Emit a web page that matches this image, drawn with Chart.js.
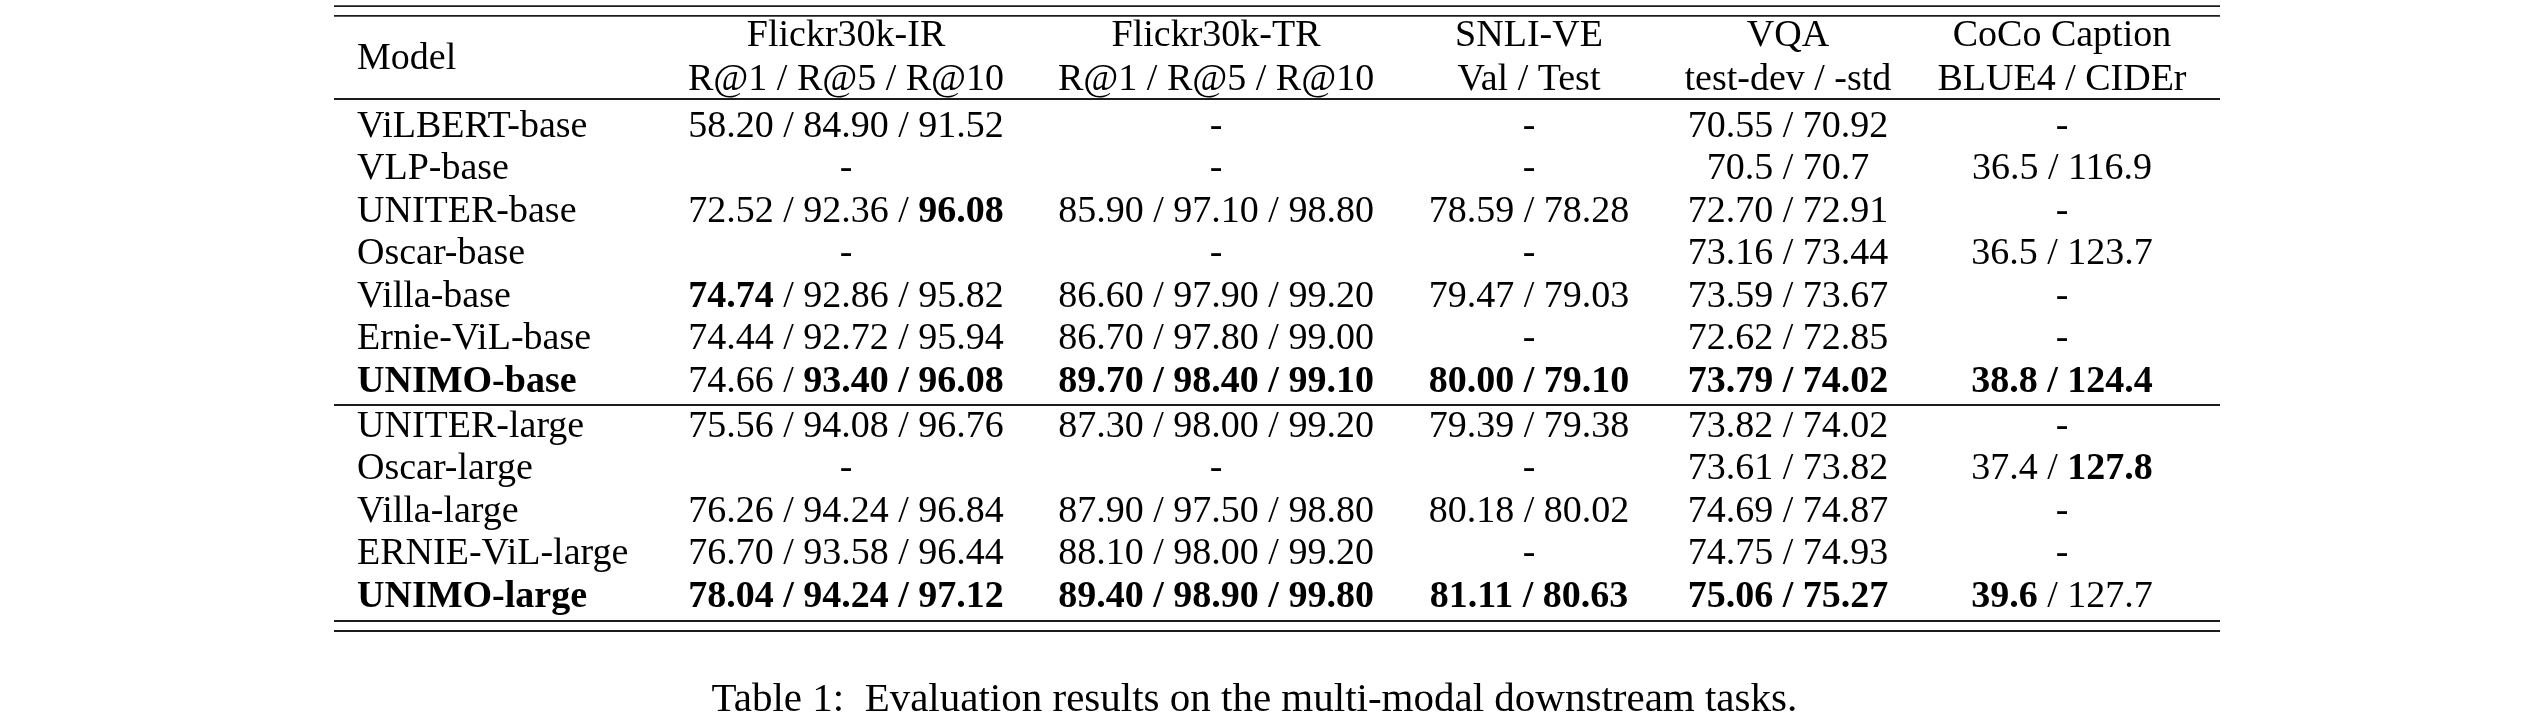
<!DOCTYPE html>
<html>
<head>
<meta charset="utf-8">
<script src="https://cdn.jsdelivr.net/npm/chart.js@4/dist/chart.umd.min.js"></script>
<style>
  html, body { margin: 0; padding: 0; background: #ffffff; }
  #wrap { width: 2542px; height: 722px; }
</style>
</head>
<body>
<div id="wrap"><canvas id="c" width="2542" height="722"></canvas></div>
<script>
// ---------------- DATA ----------------
const models = ["ViLBERT-base", "VLP-base", "UNITER-base", "Oscar-base", "Villa-base", "Ernie-ViL-base", "UNIMO-base",
                "UNITER-large", "Oscar-large", "Villa-large", "ERNIE-ViL-large", "UNIMO-large"];
const modelBold = [6, 11];

const taskNames = ["Flickr30k-IR", "Flickr30k-TR", "SNLI-VE", "VQA", "CoCo Caption"];
const metricNames = ["R@1 / R@5 / R@10", "R@1 / R@5 / R@10", "Val / Test", "test-dev / -std", "BLUE4 / CIDEr"];
const modelHeader = "Model";

const flickrIR = [["58.20","84.90","91.52"], null, ["72.52","92.36","96.08"], null, ["74.74","92.86","95.82"],
                  ["74.44","92.72","95.94"], ["74.66","93.40","96.08"], ["75.56","94.08","96.76"], null,
                  ["76.26","94.24","96.84"], ["76.70","93.58","96.44"], ["78.04","94.24","97.12"]];
const flickrTR = [null, null, ["85.90","97.10","98.80"], null, ["86.60","97.90","99.20"], ["86.70","97.80","99.00"],
                  ["89.70","98.40","99.10"], ["87.30","98.00","99.20"], null, ["87.90","97.50","98.80"],
                  ["88.10","98.00","99.20"], ["89.40","98.90","99.80"]];
const snliVE   = [null, null, ["78.59","78.28"], null, ["79.47","79.03"], null, ["80.00","79.10"],
                  ["79.39","79.38"], null, ["80.18","80.02"], null, ["81.11","80.63"]];
const vqa      = [["70.55","70.92"], ["70.5","70.7"], ["72.70","72.91"], ["73.16","73.44"], ["73.59","73.67"],
                  ["72.62","72.85"], ["73.79","74.02"], ["73.82","74.02"], ["73.61","73.82"], ["74.69","74.87"],
                  ["74.75","74.93"], ["75.06","75.27"]];
const cocoCap  = [null, ["36.5","116.9"], null, ["36.5","123.7"], null, null, ["38.8","124.4"], null,
                  ["37.4","127.8"], null, null, ["39.6","127.7"]];

// best results (bold): row -> list of part indices
const irBest   = {2: [2], 4: [0], 6: [1, 2], 11: [0, 1, 2]};
const trBest   = {6: [0, 1, 2], 11: [0, 1, 2]};
const snliBest = {6: [0, 1], 11: [0, 1]};
const vqaBest  = {6: [0, 1], 11: [0, 1]};
const cocoBest = {6: [0, 1], 8: [1], 11: [0]};

const captionText = "Table 1:  Evaluation results on the multi-modal downstream tasks.";

// ---------------- LAYOUT ----------------
const FONT_FAMILY = '"Liberation Serif", "Times New Roman", Times, serif';
const FONT_SIZE = 38;
const CAPTION_FONT_SIZE = 41;
const TEXT_COLOR = "#000000";
const RULE_COLOR = "#1c1c1c";
const RULE_WIDTH = 1.8;

// column anchors as fraction of table width (x scale 0..1); first column is left aligned
const colAnchor = [0.0122, 0.2715, 0.4677, 0.6336, 0.7709, 0.9162];
// vertical placement in row units (y scale), row i baseline sits at value rowPos(i)
const headerRow1 = -2.14, headerRow2 = -1.11, modelHeaderRow = -1.6;
const sectionGap = 0.05;
function rowPos(i) { return i >= 7 ? i + sectionGap : i; }
const singleRules = [-0.894, 6.306];
const doubleRules = [[-3.08, -2.85], [11.388, 11.624]];
const captionRow = 13.5;
const captionAnchor = 0.488;

const columns = [flickrIR, flickrTR, snliVE, vqa, cocoCap];
const bests = [irBest, trBest, snliBest, vqaBest, cocoBest];

function font(bold, size) { return (bold ? "bold " : "") + (size || FONT_SIZE) + "px " + FONT_FAMILY; }

// Build segments of a cell: [{text, bold}]
function cellSegments(parts, best) {
  if (!parts) return [{text: "-", bold: false}];
  const segs = [];
  parts.forEach((p, k) => {
    const b = best ? best.includes(k) : false;
    if (k > 0) {
      const prevB = best ? best.includes(k - 1) : false;
      segs.push({text: " / ", bold: b && prevB});
    }
    segs.push({text: p, bold: b});
  });
  return segs;
}

function drawSegments(ctx, segs, x, y, align, size) {
  let total = 0;
  segs.forEach(s => { ctx.font = font(s.bold, size); s.w = ctx.measureText(s.text).width; total += s.w; });
  let cx = align === "left" ? x : x - total / 2;
  segs.forEach(s => {
    ctx.font = font(s.bold, size);
    ctx.fillText(s.text, cx, y);
    cx += s.w;
  });
}

const tablePlugin = {
  id: "tablePlugin",
  afterDraw(chart) {
    const ctx = chart.ctx;
    const xs = chart.scales.x, ys = chart.scales.y;
    ctx.save();
    ctx.fillStyle = TEXT_COLOR;
    ctx.textBaseline = "alphabetic";
    ctx.textAlign = "left";

    // rules
    ctx.strokeStyle = RULE_COLOR;
    ctx.lineWidth = RULE_WIDTH;
    const x0 = xs.getPixelForValue(0), x1 = xs.getPixelForValue(1);
    const hline = v => { const y = ys.getPixelForValue(v); ctx.beginPath(); ctx.moveTo(x0, y); ctx.lineTo(x1, y); ctx.stroke(); };
    singleRules.forEach(hline);
    doubleRules.forEach(pair => pair.forEach(hline));

    // header
    drawSegments(ctx, [{text: modelHeader, bold: false}], xs.getPixelForValue(colAnchor[0]), ys.getPixelForValue(modelHeaderRow), "left");
    taskNames.forEach((t, j) => {
      const x = xs.getPixelForValue(colAnchor[j + 1]);
      drawSegments(ctx, [{text: t, bold: false}], x, ys.getPixelForValue(headerRow1), "center");
      drawSegments(ctx, [{text: metricNames[j], bold: false}], x, ys.getPixelForValue(headerRow2), "center");
    });

    // body
    models.forEach((m, i) => {
      const y = ys.getPixelForValue(rowPos(i));
      drawSegments(ctx, [{text: m, bold: modelBold.includes(i)}], xs.getPixelForValue(colAnchor[0]), y, "left");
      columns.forEach((col, j) => {
        const segs = cellSegments(col[i], bests[j][i]);
        drawSegments(ctx, segs, xs.getPixelForValue(colAnchor[j + 1]), y, "center");
      });
    });

    // caption
    drawSegments(ctx, [{text: captionText, bold: false}], xs.getPixelForValue(captionAnchor), ys.getPixelForValue(captionRow), "center", CAPTION_FONT_SIZE);
    ctx.restore();
  }
};

new Chart(document.getElementById("c"), {
  type: "scatter",
  data: { datasets: [] },
  options: {
    responsive: false,
    animation: false,
    devicePixelRatio: 1,
    layout: { padding: { left: 334, right: 322, top: 0, bottom: 0 } },
    plugins: { legend: { display: false }, tooltip: { enabled: false }, title: { display: false } },
    scales: {
      x: { type: "linear", min: 0, max: 1, display: false },
      y: { type: "linear", min: -3.2235, max: 13.7647, reverse: true, display: false }
    }
  },
  plugins: [tablePlugin]
});
</script>
</body>
</html>
